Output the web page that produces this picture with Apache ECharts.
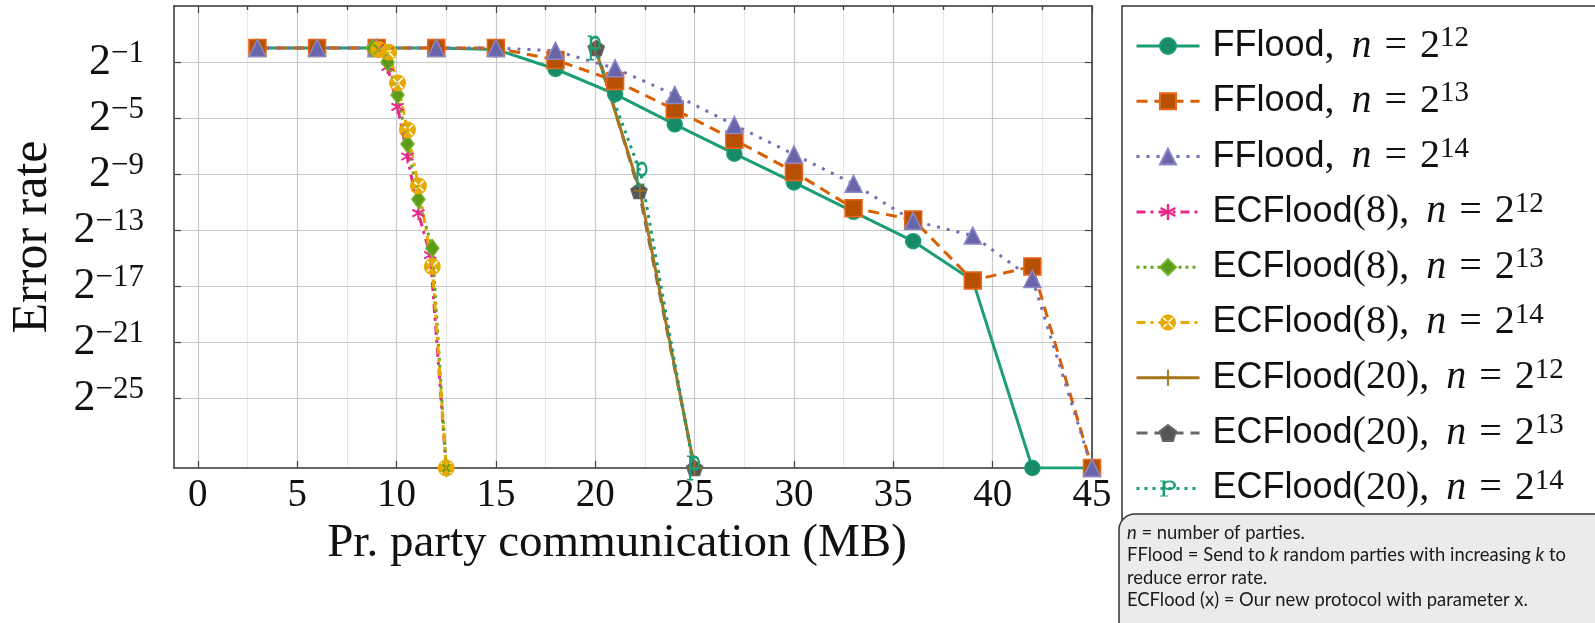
<!DOCTYPE html>
<html>
<head>
<meta charset="utf-8">
<script src="https://cdn.jsdelivr.net/npm/echarts@6/dist/echarts.min.js"></script>
<style>
html, body { margin: 0; padding: 0; background: #fff; }
#chart { width: 1595px; height: 623px; }
</style>
</head>
<body>
<div id="chart"></div>
<script>
// x = per party communication (MB), y = log2(error rate)
var ffloodX = [3, 6, 9, 12, 15, 18, 21, 24, 27, 30, 33, 36, 39, 42, 45];
var fflood12 = [0, 0, 0, 0, -0.1, -1.5, -3.3, -5.45, -7.55, -9.6, -11.7, -13.8, -16.6, -30, -30];
var fflood13 = [0, 0, 0, 0, 0, -0.85, -2.35, -4.4, -6.55, -8.85, -11.45, -12.25, -16.6, -15.6, -30];
var fflood14 = [0, 0, 0, 0, 0, -0.2, -1.45, -3.35, -5.5, -7.6, -9.7, -12.35, -13.4, -16.5, -30];

var ec8X12 = [9, 9.55, 10.05, 10.55, 11.1, 11.7, 12.5];
var ec8Y12 = [0, -1.35, -4.2, -7.75, -11.8, -14.8, -30];
var ec8X13 = [8.8, 9.55, 10.05, 10.55, 11.1, 11.8, 12.5];
var ec8Y13 = [0, -1.0, -3.35, -6.85, -10.8, -14.3, -30];
var ec8X14 = [9.1, 9.6, 10.05, 10.55, 11.1, 11.8, 12.5];
var ec8Y14 = [-0.1, -0.3, -2.5, -5.85, -9.85, -15.6, -30];

var ec20X12 = [20, 22.25, 25];
var ec20Y12 = [0, -10.2, -30];
var ec20X13 = [20.05, 22.2, 25];
var ec20Y13 = [0, -10.2, -30];
var ec20X14 = [19.95, 22.3, 24.95];
var ec20Y14 = [0, -9.0, -30];

var xTicks = [0, 5, 10, 15, 20, 25, 30, 35, 40, 45];
var xMinorTicks = [2.5, 7.5, 12.5, 17.5, 22.5, 27.5, 32.5, 37.5, 42.5];
var yTicks = [-25, -21, -17, -13, -9, -5, -1];

var names = [
    'FFlood, n = 2^12', 'FFlood, n = 2^13', 'FFlood, n = 2^14',
    'ECFlood(8), n = 2^12', 'ECFlood(8), n = 2^13', 'ECFlood(8), n = 2^14',
    'ECFlood(20), n = 2^12', 'ECFlood(20), n = 2^13', 'ECFlood(20), n = 2^14'
];

// marker shapes
var starPath = 'path://M4.3,0 L5.7,0 L5.7,10 L4.3,10 Z M1.02,1.89 L9.68,6.89 L8.98,8.11 L0.32,3.11 Z M0.32,6.89 L8.98,1.89 L9.68,3.11 L1.02,8.11 Z';
var otimesPath = 'path://M10,5 A5,5 0 1 1 0,5 A5,5 0 1 1 10,5 Z M1.646,2.354 L7.646,8.354 L8.354,7.646 L2.354,1.646 Z M2.354,8.354 L8.354,2.354 L7.646,1.646 L1.646,7.646 Z';
var plusPath = 'path://M4.4,0 L5.6,0 L5.6,4.4 L10,4.4 L10,5.6 L5.6,5.6 L5.6,10 L4.4,10 L4.4,5.6 L0,5.6 L0,4.4 L4.4,4.4 Z';
var pentagonPath = 'path://M5,0 L9.755,3.455 L7.939,9.045 L2.061,9.045 L0.245,3.455 Z';
var pPath = 'path://M1.5,1 L3,1 L3,14 L1.5,14 Z M9.5,5 A4,4 0 1 1 1.5,5 A4,4 0 1 1 9.5,5 Z M7.9,5 A2.4,2.4 0 1 0 3.1,5 A2.4,2.4 0 1 0 7.9,5 Z M0,13.2 L4.6,13.2 L4.6,14 L0,14 Z M0,1 L3,1 L3,1.8 L0,1.8 Z';

function pairs(xs, ys) {
    return xs.map(function (x, i) { return [x, ys[i]]; });
}

function makeSeries(name, xs, ys, color, dash, symbol, size, fill, border) {
    return {
        name: name,
        type: 'line',
        data: pairs(xs, ys),
        symbol: symbol,
        symbolSize: size,
        symbolKeepAspect: true,
        showAllSymbol: true,
        lineStyle: { color: color, width: 3, type: dash },
        itemStyle: { color: fill, borderColor: border, borderWidth: border ? 1.5 : 0 },
        emphasis: { disabled: true },
        z: 3
    };
}

function legendText(name) {
    var m = name.match(/^(\w+)(\((\d+)\))?, n = 2\^(\d+)$/);
    return '{sans|' + m[1] + '}' + (m[3] ? '{rm|(' + m[3] + ')}' : '') +
        '{rm|,}{it|n}{eq|=}{rm|2}{sup|' + m[4] + '}';
}

var chart = echarts.init(document.getElementById('chart'));

var axisTickStyle = { color: '#444', width: 1.2 };
var serif = 'Liberation Serif';

chart.setOption({
    animation: false,
    grid: { left: 160, top: 6, width: 932, height: 462 },
    xAxis: [{
        type: 'value', min: -1.2, max: 45,
        name: 'Pr. party communication (MB)',
        nameLocation: 'middle', nameGap: 50,
        nameTextStyle: { fontFamily: serif, fontSize: 47, color: '#111', padding: [0, 32, 0, 0] },
        axisLine: { onZero: false, lineStyle: { color: '#333', width: 1.5 } },
        axisTick: { customValues: xTicks, inside: true, length: 7, lineStyle: axisTickStyle },
        axisLabel: { customValues: xTicks, margin: 8, fontFamily: serif, fontSize: 39, color: '#111' },
        splitLine: { show: true, lineStyle: { color: '#c8c8c8', width: 1.2 } }
    }, {
        type: 'value', min: -1.2, max: 45, z: -1,
        axisLine: { show: false, onZero: false },
        axisTick: { customValues: xMinorTicks, inside: true, length: 4, lineStyle: axisTickStyle },
        axisLabel: { show: false },
        splitLine: { show: true, lineStyle: { color: '#e8e8e8', width: 1 } }
    }, {
        type: 'value', min: -1.2, max: 45, position: 'top',
        axisLine: { onZero: false, lineStyle: { color: '#333', width: 1.5 } },
        axisTick: { customValues: xTicks, inside: true, length: 7, lineStyle: axisTickStyle },
        axisLabel: { show: false },
        splitLine: { show: false }
    }, {
        type: 'value', min: -1.2, max: 45, position: 'top',
        axisLine: { show: false, onZero: false },
        axisTick: { customValues: xMinorTicks, inside: true, length: 4, lineStyle: axisTickStyle },
        axisLabel: { show: false },
        splitLine: { show: false }
    }],
    yAxis: [{
        type: 'value', min: -30, max: 3,
        name: 'Error rate',
        nameLocation: 'middle', nameGap: 116, nameRotate: 90,
        nameTextStyle: { fontFamily: serif, fontSize: 50, color: '#111' },
        axisLine: { show: true, onZero: false, lineStyle: { color: '#333', width: 1.5 } },
        axisTick: { show: true, customValues: yTicks, inside: true, length: 7, lineStyle: axisTickStyle },
        axisLabel: {
            customValues: yTicks, margin: 30,
            formatter: function (v) { return '{b|2}{s|\u2212' + Math.abs(v) + '}'; },
            rich: {
                b: { fontFamily: serif, fontSize: 44, lineHeight: 48, color: '#111' },
                s: { fontFamily: serif, fontSize: 31, lineHeight: 28, verticalAlign: 'top', color: '#111' }
            }
        },
        splitLine: { show: true, lineStyle: { color: '#c8c8c8', width: 1.2 } }
    }, {
        type: 'value', min: -30, max: 3, position: 'right',
        axisLine: { show: true, onZero: false, lineStyle: { color: '#333', width: 1.5 } },
        axisTick: { show: true, customValues: yTicks, inside: true, length: 7, lineStyle: axisTickStyle },
        axisLabel: { show: false },
        splitLine: { show: false }
    }],
    legend: {
        data: names,
        orient: 'vertical',
        left: 1122, top: 6,
        padding: [18, 60, 12, 13],
        itemWidth: 63, itemHeight: 20, itemGap: 13.3,
        selectedMode: false,
        borderColor: '#333', borderWidth: 1.5, backgroundColor: '#fff',
        lineStyle: { width: 3 },
        formatter: legendText,
        textStyle: {
            padding: [0, 0, 0, 8],
            rich: {
                sans: { fontFamily: 'Liberation Sans', fontSize: 36, lineHeight: 44, color: '#111' },
                rm: { fontFamily: serif, fontSize: 40, lineHeight: 44, color: '#111' },
                it: { fontFamily: serif, fontStyle: 'italic', fontSize: 40, lineHeight: 44, color: '#111', padding: [0, 0, 0, 17] },
                eq: { fontFamily: serif, fontSize: 40, lineHeight: 44, color: '#111', padding: [0, 13, 0, 13] },
                sup: { fontFamily: serif, fontSize: 29, lineHeight: 26, verticalAlign: 'top', color: '#111' }
            }
        }
    },
    graphic: [{
        type: 'rect',
        shape: { x: 1119, y: 514, width: 520, height: 140, r: 16 },
        style: { fill: '#e9ebed', stroke: '#333', lineWidth: 1.5 },
        z: 10
    }, {
        type: 'text',
        x: 1127, y: 522,
        style: {
            text: '{i|n}{r| = number of parties.}\n' +
                '{r|FFlood = Send to }{i|k}{r| random parties with increasing }{i|k}{r| to}\n' +
                '{r|reduce error rate.}\n' +
                '{r|ECFlood (x) = Our new protocol with parameter x.}',
            rich: {
                r: { fontFamily: 'Lato', fontSize: 18.4, lineHeight: 22.3, fill: '#1a1a1a' },
                i: { fontFamily: 'Lato', fontStyle: 'italic', fontSize: 18.4, lineHeight: 22.3, fill: '#1a1a1a' }
            }
        },
        z: 11
    }],
    series: [
        makeSeries(names[0], ffloodX, fflood12, '#1b9e77', 'solid', 'circle', 15, '#178a68', '#1b9e77'),
        makeSeries(names[1], ffloodX, fflood13, '#d95f02', [11, 7], 'rect', 17, '#b85004', '#e8671a'),
        makeSeries(names[2], ffloodX, fflood14, '#7570b3', [3, 7], 'triangle', 17, '#6a65a8', '#8c88c6'),
        makeSeries(names[3], ec8X12, ec8Y12, '#e7298a', [9, 5, 3, 5], starPath, 14, '#e7298a', null),
        makeSeries(names[4], ec8X13, ec8Y13, '#66a61e', [3, 4], 'diamond', [13, 17], '#5c9a18', '#72b32a'),
        makeSeries(names[5], ec8X14, ec8Y14, '#e6ab02', [9, 5, 3, 5], otimesPath, 17, '#e6ab02', null),
        makeSeries(names[7], ec20X13, ec20Y13, '#666666', [11, 7], pentagonPath, 16, '#555555', '#666666'),
        makeSeries(names[6], ec20X12, ec20Y12, '#a6761d', 'solid', plusPath, 13, '#a6761d', null),
        makeSeries(names[8], ec20X14, ec20Y14, '#1b9e77', [3, 5], pPath, [18, 25], '#1b9e77', null)
    ]
});
</script>
</body>
</html>
